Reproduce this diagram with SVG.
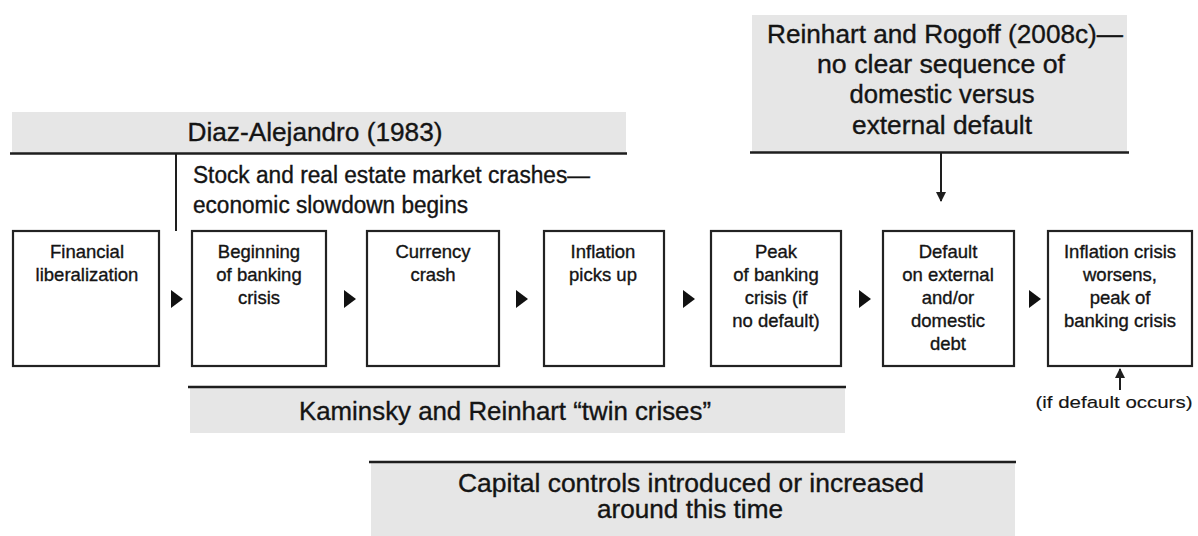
<svg xmlns="http://www.w3.org/2000/svg" width="1198" height="536" viewBox="0 0 1198 536">
<style>
text{font-family:"Liberation Sans",Arial,Helvetica,sans-serif;fill:#141414;stroke:#141414;stroke-width:0.35;}
.band{fill:#e6e6e6;stroke:none;}
.rule{stroke:#1e1e1e;stroke-width:2.6;fill:none;}
.box{fill:#ffffff;stroke:#222;stroke-width:2.2;}
.bt{font-size:18.5px;text-anchor:middle;}
.big{font-size:25px;text-anchor:middle;}
.mid{font-size:23px;}
.small{font-size:17px;stroke-width:0.15;}
.tri{fill:#111;stroke:none;}
.conn{stroke:#1e1e1e;stroke-width:2;fill:none;}
</style>
<defs>
<marker id="ah" viewBox="0 0 10 10" refX="9" refY="5" markerWidth="6" markerHeight="5" orient="auto" markerUnits="strokeWidth">
<path d="M0,0 L10,5 L0,10 z" fill="#1e1e1e"/>
</marker>
</defs>
<rect width="1198" height="536" fill="#ffffff"/>

<g id="diaz">
<rect class="band" x="12" y="112" width="614" height="41"/>
<line class="rule" x1="10" y1="153.5" x2="627" y2="153.5"/>
<text class="big" x="315" y="141" textLength="255" lengthAdjust="spacingAndGlyphs">Diaz-Alejandro (1983)</text>
<line class="conn" x1="176" y1="154" x2="176" y2="231"/>
<text class="mid" x="193" y="183" textLength="397" lengthAdjust="spacingAndGlyphs">Stock and real estate market crashes—</text>
<text class="mid" x="193" y="213" textLength="275" lengthAdjust="spacingAndGlyphs">economic slowdown begins</text>
</g>

<g id="reinhart-rogoff">
<rect class="band" x="752" y="15" width="375" height="137"/>
<line class="rule" x1="750" y1="152.5" x2="1129" y2="152.5"/>
<text class="big" x="945" y="43" textLength="356" lengthAdjust="spacingAndGlyphs">Reinhart and Rogoff (2008c)—</text>
<text class="big" x="941" y="73" textLength="248" lengthAdjust="spacingAndGlyphs">no clear sequence of</text>
<text class="big" x="942" y="103" textLength="185" lengthAdjust="spacingAndGlyphs">domestic versus</text>
<text class="big" x="942" y="134" textLength="180" lengthAdjust="spacingAndGlyphs">external default</text>
</g>

<g id="kaminsky-reinhart">
<rect class="band" x="190" y="388" width="655" height="45"/>
<line class="rule" x1="188" y1="387" x2="846" y2="387"/>
<text class="big" x="505" y="420" textLength="412" lengthAdjust="spacingAndGlyphs">Kaminsky and Reinhart “twin crises”</text>
</g>

<g id="capital-controls">
<rect class="band" x="371" y="463" width="644" height="73"/>
<line class="rule" x1="369" y1="462" x2="1016" y2="462"/>
<text class="big" x="691" y="492" textLength="466" lengthAdjust="spacingAndGlyphs">Capital controls introduced or increased</text>
<text class="big" x="690" y="518" textLength="186" lengthAdjust="spacingAndGlyphs">around this time</text>
</g>

<g id="n1">
<rect class="box" x="13" y="231" width="146" height="135"/>
<text class="bt" x="87" y="258">Financial</text>
<text class="bt" x="87" y="281">liberalization</text>
</g>
<g id="n2">
<rect class="box" x="192" y="231" width="134" height="135"/>
<text class="bt" x="259" y="258">Beginning</text>
<text class="bt" x="259" y="281">of banking</text>
<text class="bt" x="259" y="304">crisis</text>
</g>
<g id="n3">
<rect class="box" x="367" y="231" width="132" height="135"/>
<text class="bt" x="433" y="258">Currency</text>
<text class="bt" x="433" y="281">crash</text>
</g>
<g id="n4">
<rect class="box" x="544" y="231" width="120" height="135"/>
<text class="bt" x="603" y="258">Inflation</text>
<text class="bt" x="603" y="281">picks up</text>
</g>
<g id="n5">
<rect class="box" x="711" y="231" width="130" height="135"/>
<text class="bt" x="776" y="258">Peak</text>
<text class="bt" x="776" y="281">of banking</text>
<text class="bt" x="776" y="304">crisis (if</text>
<text class="bt" x="776" y="327">no default)</text>
</g>
<g id="n6">
<rect class="box" x="883" y="231" width="131" height="135"/>
<text class="bt" x="948" y="258">Default</text>
<text class="bt" x="948" y="281">on external</text>
<text class="bt" x="948" y="304">and/or</text>
<text class="bt" x="948" y="327">domestic</text>
<text class="bt" x="948" y="350">debt</text>
</g>
<g id="n7">
<rect class="box" x="1048" y="231" width="144" height="135"/>
<text class="bt" x="1120" y="258">Inflation crisis</text>
<text class="bt" x="1120" y="281">worsens,</text>
<text class="bt" x="1120" y="304">peak of</text>
<text class="bt" x="1120" y="327">banking crisis</text>
</g>
<g id="note-default">
<text class="small" x="1114" y="408" text-anchor="middle" textLength="157" lengthAdjust="spacingAndGlyphs">(if default occurs)</text>
</g>

<g id="connectors">
<path class="tri" d="M171,290 L183,299 L171,308 z"/>
<path class="tri" d="M344,290 L356,299 L344,308 z"/>
<path class="tri" d="M516,290 L528,299 L516,308 z"/>
<path class="tri" d="M683,290 L695,299 L683,308 z"/>
<path class="tri" d="M859,290 L871,299 L859,308 z"/>
<path class="tri" d="M1029,290 L1041,299 L1029,308 z"/>
<line class="conn" x1="941" y1="153" x2="941" y2="201" marker-end="url(#ah)"/>
<line class="conn" x1="1120" y1="390" x2="1120" y2="369" stroke-width="1.6" marker-end="url(#ah)"/>
</g>
</svg>
